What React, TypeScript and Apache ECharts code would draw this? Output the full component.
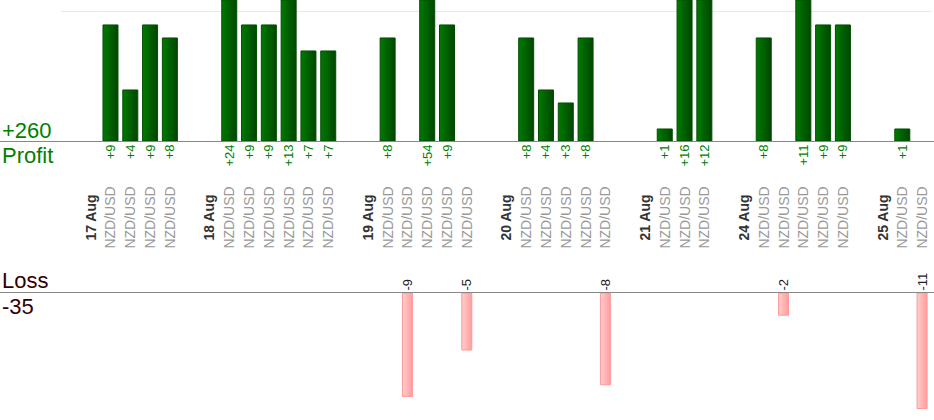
import React, { useEffect, useRef } from "react";
import * as echarts from "echarts";

const DAYS = ["17 Aug", "18 Aug", "19 Aug", "20 Aug", "21 Aug", "24 Aug", "25 Aug"];
const PAIR = "NZD/USD";
const TRADES_17 = [9, 4, 9, 8];
const TRADES_18 = [24, 9, 9, 13, 7, 7];
const TRADES_19 = [8, -9, 54, 9, -5];
const TRADES_20 = [8, 4, 3, 8, -8];
const TRADES_21 = [1, 16, 12];
const TRADES_24 = [8, -2, 11, 9, 9];
const TRADES_25 = [1, -11];
const TRADES = [TRADES_17, TRADES_18, TRADES_19, TRADES_20, TRADES_21, TRADES_24, TRADES_25];

const FONT = "'Liberation Sans', Arial, sans-serif";

export default function App() {
  const ref = useRef<HTMLDivElement>(null);
  useEffect(() => {
    document.body.style.margin = "0";
    if (!ref.current) return;
    const chart = echarts.init(ref.current, null, { renderer: "svg" });

    const labelBase = {
      align: "center",
      verticalAlign: "middle",
      fontSize: 14,
      fontFamily: FONT,
    };
    const categories: any[] = [];
    const profit: (number | null)[] = [];
    const loss: (number | null)[] = [];
    DAYS.forEach((d, i) => {
      categories.push({ value: "" });
      profit.push(null);
      loss.push(null);
      categories.push({ value: d, textStyle: { ...labelBase, fontWeight: "bold", color: "#333" } });
      profit.push(null);
      loss.push(null);
      TRADES[i].forEach((v) => {
        categories.push({ value: PAIR, textStyle: { ...labelBase, color: "#999" } });
        profit.push(v > 0 ? v : null);
        loss.push(v < 0 ? v : null);
      });
    });
    let totalProfit = 0;
    let totalLoss = 0;
    TRADES.forEach((t) => t.forEach((v) => { if (v > 0) totalProfit += v; else totalLoss += v; }));

    const option: any = {
      animation: false,
      grid: [
        { left: 61, right: 2, top: 0, height: 141.5 },
        { left: 61, right: 2, top: 292.5, height: 116 },
      ],
      xAxis: [
        {
          type: "category",
          gridIndex: 0,
          data: categories,
          boundaryGap: true,
          axisLine: { show: false },
          axisTick: { show: false },
          axisLabel: {
            interval: 0,
            rotate: 90,
            margin: 76,
            ...labelBase,
            color: "#999",
          },
        },
        {
          type: "category",
          gridIndex: 1,
          data: categories,
          boundaryGap: true,
          show: false,
        },
      ],
      yAxis: [
        {
          type: "value",
          gridIndex: 0,
          min: 0,
          max: 10.88,
          interval: 10,
          axisLine: { show: false },
          axisTick: { show: false },
          axisLabel: { show: false },
          splitLine: {
            show: true,
            showMinLine: false,
            showMaxLine: false,
            lineStyle: { color: "#e8e8e8", width: 1 },
          },
        },
        {
          type: "value",
          gridIndex: 1,
          min: -10,
          max: 0,
          interval: 10,
          axisLine: { show: false },
          axisTick: { show: false },
          axisLabel: { show: false },
          splitLine: { show: false },
        },
      ],
      series: [
        {
          type: "bar",
          xAxisIndex: 0,
          yAxisIndex: 0,
          data: profit,
          barWidth: 16,
          clip: true,
          itemStyle: {
            color: new echarts.graphic.LinearGradient(0, 0, 1, 0, [
              { offset: 0, color: "#007a00" },
              { offset: 1, color: "#004600" },
            ]),
            borderColor: "#004f00",
            borderWidth: 1,
          },
          label: {
            show: true,
            position: "bottom",
            distance: 3,
            rotate: 90,
            align: "right",
            verticalAlign: "middle",
            fontSize: 13,
            color: "#008000",
            fontFamily: FONT,
            formatter: (p: any) => "+" + p.value,
          },
        },
        {
          type: "bar",
          xAxisIndex: 1,
          yAxisIndex: 1,
          data: loss,
          barWidth: 11,
          clip: true,
          itemStyle: {
            color: new echarts.graphic.LinearGradient(0, 0, 1, 0, [
              { offset: 0, color: "#ffcece" },
              { offset: 1, color: "#ff9c9c" },
            ]),
            borderColor: "#ff9999",
            borderWidth: 1,
          },
          label: {
            show: true,
            position: "top",
            distance: 2,
            rotate: 90,
            align: "left",
            verticalAlign: "middle",
            fontSize: 13,
            color: "#222",
            fontFamily: FONT,
            formatter: (p: any) => String(p.value),
          },
        },
      ],
    };
    chart.setOption(option);

    const y0 = chart.convertToPixel({ yAxisIndex: 0 } as any, 0) as number;
    const y1 = chart.convertToPixel({ yAxisIndex: 1 } as any, 0) as number;
    chart.setOption({
      graphic: [
        { type: "line", shape: { x1: 0, y1: y0, x2: 934, y2: y0 }, style: { stroke: "#888", lineWidth: 1 }, z: 10 },
        { type: "line", shape: { x1: 0, y1: y1, x2: 934, y2: y1 }, style: { stroke: "#888", lineWidth: 1 }, z: 10 },
        { type: "text", x: 2, y: 130, style: { text: "+" + totalProfit, fontSize: 22, fill: "#008000", fontFamily: FONT, verticalAlign: "middle" } },
        { type: "text", x: 2, y: 155, style: { text: "Profit", fontSize: 22, fill: "#008000", fontFamily: FONT, verticalAlign: "middle" } },
        { type: "text", x: 2, y: 280.5, style: { text: "Loss", fontSize: 22, fill: "#330000", fontFamily: FONT, verticalAlign: "middle" } },
        { type: "text", x: 2, y: 306.5, style: { text: String(totalLoss), fontSize: 22, fill: "#330000", fontFamily: FONT, verticalAlign: "middle" } },
      ],
    });

    return () => chart.dispose();
  }, []);
  return <div ref={ref} style={{ width: 934, height: 420 }} />;
}
